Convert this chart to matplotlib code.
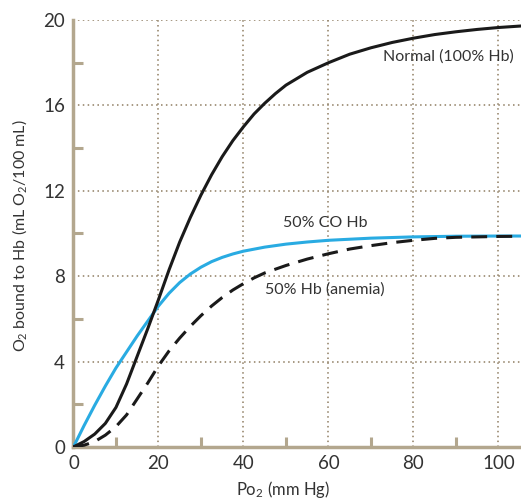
import matplotlib
matplotlib.use("Agg")
import matplotlib.pyplot as plt
from matplotlib.ticker import MultipleLocator

plt.rcParams["font.family"] = ["Lato", "DejaVu Sans"]
plt.rcParams["mathtext.fontset"] = "custom"
plt.rcParams["mathtext.rm"] = "Lato"
plt.rcParams["mathtext.default"] = "regular"

# кривые диссоциации оксигемоглобина
po2_normal = [0, 2.5, 5, 7.5, 10, 12.5, 15, 17.5, 20, 22.5, 25, 27.5, 30, 32.5, 35,
              37.5, 40, 42.5, 45, 47.5, 50, 55, 60, 65, 70, 75, 80, 85, 90, 95, 100, 106]
o2_normal = [0, 0.25, 0.6, 1.1, 1.85, 2.95, 4.25, 5.55, 6.9, 8.3, 9.6, 10.75, 11.8,
             12.75, 13.6, 14.35, 15.0, 15.6, 16.1, 16.55, 16.95, 17.55, 18.0, 18.4,
             18.7, 18.95, 19.15, 19.32, 19.45, 19.56, 19.65, 19.73]

po2_co = [0, 2.5, 5, 7.5, 10, 12.5, 15, 17.5, 20, 22.5, 25, 27.5, 30, 32.5, 35, 37.5,
          40, 45, 50, 55, 60, 70, 80, 90, 100, 106]
o2_co = [0, 1.0, 1.95, 2.85, 3.7, 4.45, 5.2, 5.9, 6.6, 7.2, 7.7, 8.1, 8.42, 8.68,
         8.88, 9.04, 9.17, 9.36, 9.5, 9.6, 9.68, 9.78, 9.84, 9.87, 9.88, 9.88]

po2_anemia = [0, 2.5, 5, 7.5, 10, 12.5, 15, 17.5, 20, 22.5, 25, 27.5, 30, 32.5, 35,
              37.5, 40, 42.5, 45, 50, 55, 60, 65, 70, 75, 80, 85, 90, 100, 106]
o2_anemia = [0, 0.08, 0.25, 0.55, 0.95, 1.5, 2.25, 3.0, 3.8, 4.5, 5.1, 5.65, 6.15,
             6.6, 7.0, 7.35, 7.65, 7.92, 8.15, 8.5, 8.8, 9.05, 9.27, 9.43, 9.57,
             9.68, 9.77, 9.82, 9.86, 9.87]

labels = ["Normal (100% Hb)", "50% CO Hb", "50% Hb (anemia)"]

tan = "#b3a78e"
grid_col = "#8f7d62"
text_col = "#333333"

fig = plt.figure(figsize=(5.21, 5.01), dpi=100)
ax = fig.add_axes([0.141, 0.108, 0.859, 0.852])

ax.plot(po2_co, o2_co, color="#29abe2", lw=2.2, zorder=3)
ax.plot(po2_normal, o2_normal, color="#1a1a1a", lw=2.2, zorder=4)
ax.plot(po2_anemia, o2_anemia, color="#1a1a1a", lw=2.2, dashes=(5.2, 3), zorder=5)

ax.set_xlim(0, 105.3)
ax.set_ylim(0, 20)
ax.xaxis.set_major_locator(MultipleLocator(20))
ax.xaxis.set_minor_locator(MultipleLocator(10))
ax.yaxis.set_major_locator(MultipleLocator(4))
ax.yaxis.set_minor_locator(MultipleLocator(2))

ax.grid(True, which="major", color=grid_col, linestyle=(0, (1, 2.2)), lw=1.1)
ax.set_axisbelow(True)

for s in ["top", "right"]:
    ax.spines[s].set_visible(False)
for s in ["left", "bottom"]:
    ax.spines[s].set_color(tan)
    ax.spines[s].set_linewidth(2.5)

ax.tick_params(which="major", length=0, labelsize=13.5, labelcolor=text_col, pad=6)
ax.tick_params(which="minor", direction="in", length=7, width=2.2, color=tan)

ax.set_xlabel("Po$_2$ (mm Hg)", fontsize=12, color=text_col)
ax.xaxis.set_label_coords(0.469, -0.075)
ax.set_ylabel("O$_2$ bound to Hb (mL O$_2$/100 mL)", fontsize=11.5, color=text_col)
ax.yaxis.set_label_coords(-0.1, 0.495)

ax.text(72.8, 18.3, labels[0], fontsize=11.5, color=text_col, va="center", ha="left")
ax.text(49.3, 10.5, labels[1], fontsize=11.5, color=text_col, va="center", ha="left")
ax.text(45.0, 7.35, labels[2], fontsize=11.5, color=text_col, va="center", ha="left")

fig.savefig("out.png", dpi=100)
